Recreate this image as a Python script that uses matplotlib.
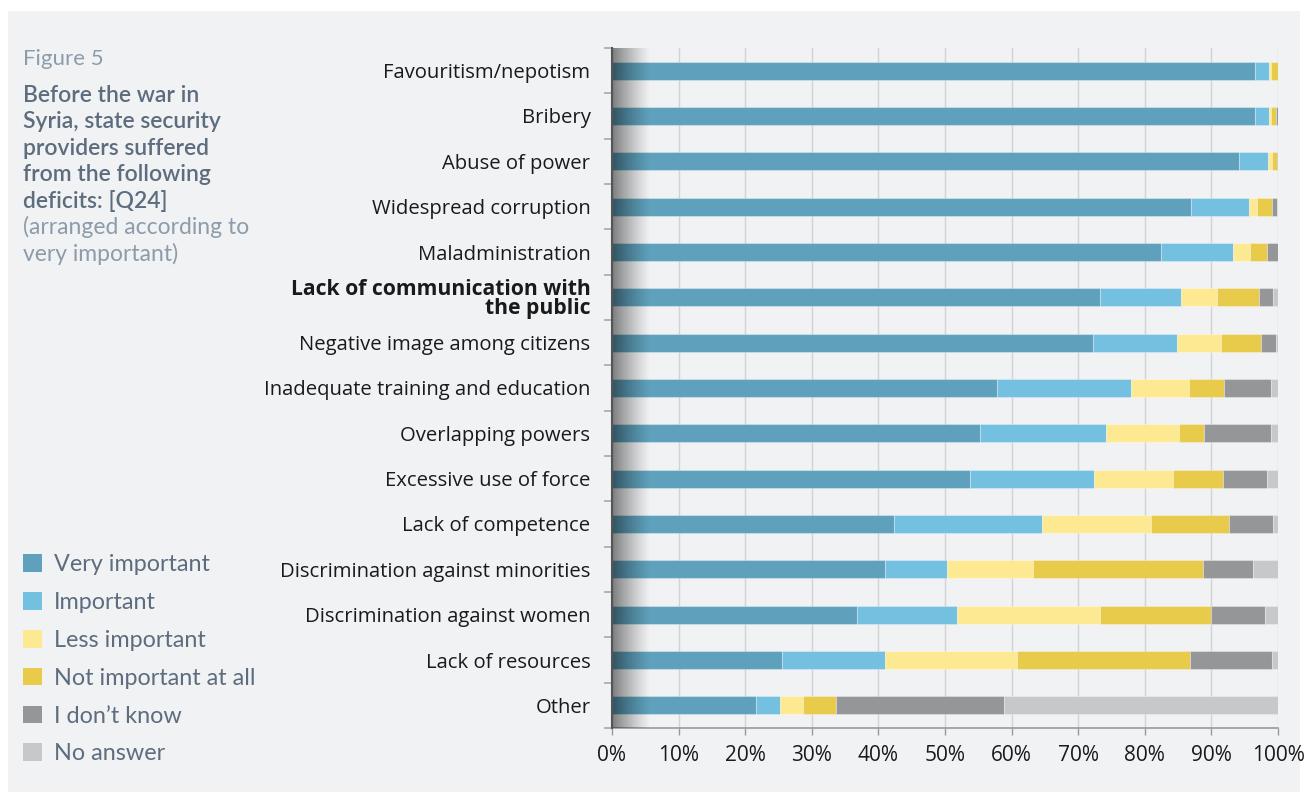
import numpy as np
import matplotlib
matplotlib.use("Agg")
from matplotlib import pyplot as plt
from matplotlib.patches import Rectangle, Patch

# data, top to bottom, shares (%)
categories = [
    "Favouritism/nepotism", "Bribery", "Abuse of power", "Widespread corruption",
    "Maladministration", "Lack of communication with\nthe public",
    "Negative image among citizens", "Inadequate training and education",
    "Overlapping powers", "Excessive use of force", "Lack of competence",
    "Discrimination against minorities", "Discrimination against women",
    "Lack of resources", "Other",
]
very_important = [96.6, 96.5, 94.2, 86.9, 82.4, 73.2, 72.2, 57.8, 55.3, 53.7, 42.4, 41.0, 36.8, 25.6, 21.6]
important = [2.1, 2.1, 4.3, 8.7, 10.8, 12.3, 12.6, 20.2, 18.9, 18.7, 22.1, 9.3, 15.0, 15.4, 3.6]
less_important = [0.3, 0.4, 0.6, 1.2, 2.6, 5.3, 6.7, 8.6, 11.0, 11.9, 16.5, 12.9, 21.4, 19.8, 3.5]
not_important = [1.0, 0.7, 0.7, 2.3, 2.5, 6.4, 6.0, 5.3, 3.7, 7.5, 11.6, 25.6, 16.8, 26.0, 5.0]
dont_know = [0.0, 0.3, 0.2, 0.8, 1.7, 2.1, 2.2, 7.1, 10.0, 6.5, 6.7, 7.5, 8.1, 12.3, 25.1]
no_answer = [0.0, 0.0, 0.0, 0.1, 0.0, 0.7, 0.3, 1.0, 1.1, 1.7, 0.7, 3.7, 1.9, 0.9, 41.2]

series_labels = ["Very important", "Important", "Less important",
                 "Not important at all", "I don\u2019t know", "No answer"]
series_colors = ["#5fa1bc", "#73c0e0", "#fee993", "#e8cb4b", "#959698", "#c7c8ca"]

BG = "#f1f2f4"
TXT = "#5d6d7e"
TXT_LIGHT = "#8d9cab"
W, H = 1306, 794

fig = plt.figure(figsize=(W / 100, H / 100), dpi=100, facecolor="white")
fig.patches.append(Rectangle((8 / W, 2 / H), 1292 / W, 781 / H, transform=fig.transFigure,
                             facecolor=BG, edgecolor="none", zorder=-10))

ax = fig.add_axes([612 / W, 1 - 728 / H, 666 / W, 680 / H])
ax.patch.set_alpha(0)

y = np.arange(len(categories))
left = np.zeros(len(categories))
all_series = [very_important, important, less_important, not_important, dont_know, no_answer]
for vals, col, lab in zip(all_series, series_colors, series_labels):
    ax.barh(y, vals, left=left, height=0.4, color=col, label=lab,
            edgecolor=(1, 1, 1, 0.3), linewidth=0.8, zorder=3)
    left += np.array(vals)

# dark shading on the left edge
grad = np.zeros((1, 256, 4))
grad[0, :, 3] = np.linspace(0.55, 0.0, 256) ** 1.2
ax.imshow(grad, extent=(0, 5.8, len(categories) - 0.5, -0.5), aspect="auto",
          interpolation="bilinear", zorder=4)

ax.set_xlim(0, 100)
ax.set_ylim(len(categories) - 0.5, -0.5)

ax.set_xticks(np.arange(0, 101, 10))
ax.set_xticklabels([f"{v}%" for v in range(0, 101, 10)], fontsize=15,
                   family="Open Sans", color="#1a1a1a")
ax.tick_params(axis="x", length=5, color="#9a9a9a", width=1, pad=7)
ax.grid(axis="x", color="#d2d3d5", linewidth=1, zorder=0)

ax.set_yticks(np.arange(len(categories) + 1) - 0.5)
ax.set_yticklabels([])
ax.tick_params(axis="y", length=6, color="#a8a8a8", width=1.2)
ax.set_yticks(y, minor=True)
ax.set_yticklabels(categories, minor=True, fontsize=14.6, family="Open Sans",
                   color="#1a1a1a", linespacing=0.9)
ax.tick_params(axis="y", which="minor", length=0, pad=15.5)
for t in ax.get_yticklabels(minor=True):
    if t.get_text().startswith("Lack of communication"):
        t.set_fontweight("bold")
        t.set_fontsize(15.2)
        t.set_multialignment("right")

for s in ["top", "right"]:
    ax.spines[s].set_visible(False)
ax.spines["left"].set_color("#555555")
ax.spines["left"].set_linewidth(1.5)
ax.spines["left"].set_zorder(5)
ax.spines["bottom"].set_color("#9a9a9a")
ax.spines["bottom"].set_linewidth(1.2)

# left hand texts
fig.text(23 / W, 1 - 59 / H, "Figure 5", fontsize=16, family="Lato", weight="normal",
         color=TXT_LIGHT, va="center", ha="left")
fig.text(23 / W, 1 - 85 / H,
         "Before the war in\nSyria, state security\nproviders suffered\nfrom the following\ndeficits: [Q24]",
         fontsize=16.5, family="Lato", weight="semibold", color=TXT, va="top", ha="left",
         linespacing=1.31)
fig.text(23 / W, 1 - 216 / H, "(arranged according to\nvery important)", fontsize=16.5,
         family="Lato", weight="normal", color=TXT_LIGHT, va="top", ha="left", linespacing=1.28)

handles = [Patch(facecolor=c, edgecolor="none") for c in series_colors]
fig.legend(handles, series_labels, loc="upper left", bbox_to_anchor=(14 / W, 1 - 545 / H),
           frameon=False, prop={"family": "Lato", "size": 16.8}, labelcolor=TXT,
           handlelength=0.78, handleheight=0.78, handletextpad=0.55, labelspacing=0.72,
           borderaxespad=0)

fig.savefig("out.png", dpi=100, facecolor="white")
